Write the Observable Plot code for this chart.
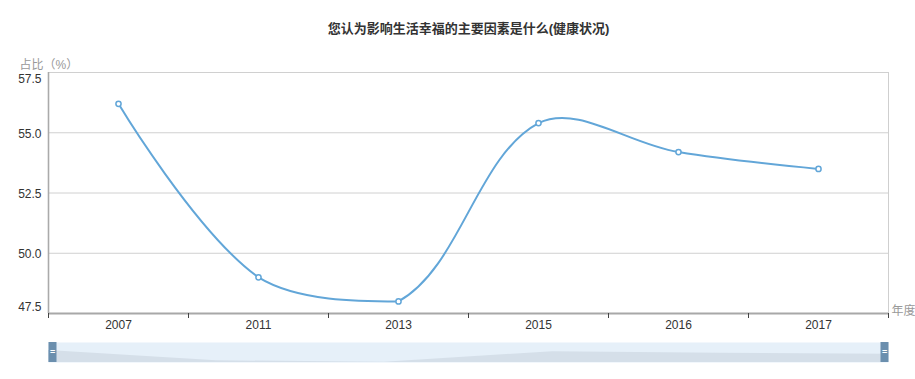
<!DOCTYPE html>
<html><head><meta charset="utf-8">
<script src="https://cdn.jsdelivr.net/npm/d3@7"></script>
<script src="https://cdn.jsdelivr.net/npm/@observablehq/plot@0.6"></script>
<style>
body{margin:0;background:#fff;}
#chart svg{display:block;}
</style>
</head><body><div id="chart"></div><script>
const title = "您认为影响生活幸福的主要因素是什么(健康状况)";
const years = ["2007", "2011", "2013", "2015", "2016", "2017"];
const values = [56.2, 49.0, 48.0, 55.4, 54.2, 53.5];
const yTicks = [47.5, 50.0, 52.5, 55.0, 57.5];
const yLabel = "占比（%）";
const xLabel = "年度";

const font = '"Liberation Sans", Arial, "Noto Sans CJK SC", sans-serif';
const lineColor = "#62a6d8";
const data = years.map((year, i) => ({i, year, value: values[i]}));
const bounds = d3.range(years.length + 1).map(k => k - 0.5);
const yMin = yTicks[0], yMax = yTicks[yTicks.length - 1];

// Smooth bezier curve in the style of the original charting tool:
// control points along (next - prev), weighted by segment length, clamped to the points' bounding box.
function smoothCurve(context) {
  let pts = [];
  return {
    areaStart() {}, areaEnd() {},
    lineStart() { pts = []; },
    point(x, y) { pts.push([+x, +y]); },
    lineEnd() {
      const n = pts.length;
      if (!n) return;
      const smooth = 0.36;
      const minX = d3.min(pts, p => p[0]), maxX = d3.max(pts, p => p[0]);
      const minY = d3.min(pts, p => p[1]), maxY = d3.max(pts, p => p[1]);
      const clamp = (p) => [Math.max(minX, Math.min(maxX, p[0])), Math.max(minY, Math.min(maxY, p[1]))];
      const cps = [];
      for (let i = 0; i < n; i++) {
        const p = pts[i];
        if (i === 0 || i === n - 1) { cps.push(p); continue; }
        const a = pts[i - 1], b = pts[i + 1];
        const vx = (b[0] - a[0]) * smooth, vy = (b[1] - a[1]) * smooth;
        let d0 = Math.hypot(p[0] - a[0], p[1] - a[1]);
        let d1 = Math.hypot(p[0] - b[0], p[1] - b[1]);
        const s = d0 + d1;
        if (s) { d0 /= s; d1 /= s; }
        cps.push(clamp([p[0] - vx * d0, p[1] - vy * d0]));
        cps.push(clamp([p[0] + vx * d1, p[1] + vy * d1]));
      }
      context.moveTo(pts[0][0], pts[0][1]);
      let k = 0;
      for (let i = 1; i < n; i++) {
        const c1 = cps[k++], c2 = cps[k++];
        context.bezierCurveTo(c1[0], c1[1], c2[0], c2[1], pts[i][0], pts[i][1]);
      }
    }
  };
}

const main = Plot.plot({
  width: 915, height: 333,
  marginLeft: 48, marginRight: 27, marginTop: 72, marginBottom: 20,
  style: {fontFamily: font, fontSize: "12px", background: "#fff"},
  x: {domain: [-0.5, years.length - 0.5], axis: null},
  y: {domain: [yMin, yMax], axis: null},
  marks: [
    Plot.ruleY(yTicks, {stroke: "#d0d0d0", strokeWidth: 1}),
    Plot.ruleX([years.length - 0.5], {stroke: "#cfcfcf", strokeWidth: 1}),
    Plot.ruleX([-0.5], {stroke: "#aaa", strokeWidth: 1.6}),
    Plot.ruleY([yMin], {stroke: "#a8a8a8", strokeWidth: 2.2}),
    Plot.axisX(bounds, {tickSize: 5, tickFormat: () => "", label: null, stroke: "#444", strokeWidth: 1, anchor: "bottom"}),
    Plot.line(data, {x: "i", y: "value", curve: smoothCurve, stroke: lineColor, strokeWidth: 2}),
    Plot.dot(data, {x: "i", y: "value", r: 2.6, fill: "#fff", stroke: lineColor, strokeWidth: 1.5}),
    Plot.text(data, {x: "i", text: "year", frameAnchor: "bottom", dy: 15, fill: "#333", fontSize: 12}),
    Plot.text(yTicks.slice(1, -1), {y: d => d, text: d => d.toFixed(1), frameAnchor: "left", textAnchor: "end", dx: -7, dy: 1, fill: "#333", fontSize: 12}),
    Plot.text([yMax], {y: d => d, text: d => d.toFixed(1), frameAnchor: "left", textAnchor: "end", dx: -7, dy: 7, fill: "#333", fontSize: 12}),
    Plot.text([yMin], {y: d => d, text: d => d.toFixed(1), frameAnchor: "left", textAnchor: "end", dx: -7, dy: -6, fill: "#333", fontSize: 12}),
    Plot.text([title], {frameAnchor: "top", dy: -49, fontWeight: "bold", fontSize: 13, fill: "#333"}),
    Plot.text([yLabel], {frameAnchor: "top-left", textAnchor: "start", dx: -29, dy: -12, fill: "#999", fontSize: 12}),
    Plot.text([xLabel], {frameAnchor: "bottom-right", textAnchor: "start", dx: 3, dy: 1, fill: "#999", fontSize: 12})
  ]
});

const shadowLo = 47.8, shadowHi = 61.8;
const slider = Plot.plot({
  width: 915, height: 46,
  marginLeft: 48, marginRight: 27, marginTop: 9, marginBottom: 17,
  style: {fontFamily: font, background: "#fff"},
  x: {domain: [0, years.length - 1], axis: null},
  y: {domain: [shadowLo, shadowHi], axis: null},
  marks: [
    Plot.frame({fill: "#e6f0f9", stroke: "none"}),
    Plot.areaY(data, {x: "i", y1: shadowLo, y2: "value", fill: "#d5dfe9"}),
    Plot.tickX([0], {x: d => d, dx: 4, stroke: "#6b8fae", strokeWidth: 8}),
    Plot.tickX([years.length - 1], {x: d => d, dx: -4, stroke: "#6b8fae", strokeWidth: 8}),
    Plot.text([0], {x: d => d, frameAnchor: "middle", dx: 4, text: () => "=", fill: "#fff", fontSize: 9, fontWeight: "bold"}),
    Plot.text([years.length - 1], {x: d => d, frameAnchor: "middle", dx: -4, text: () => "=", fill: "#fff", fontSize: 9, fontWeight: "bold"})
  ]
});

const el = document.getElementById("chart");
el.appendChild(main);
el.appendChild(slider);
</script></body></html>
